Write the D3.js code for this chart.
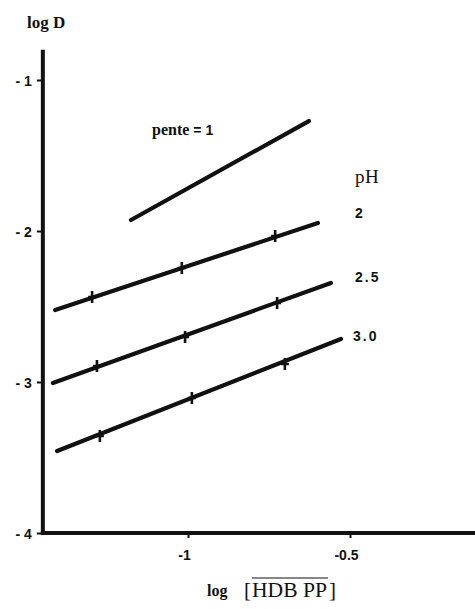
<!DOCTYPE html>
<html>
<head>
<meta charset="utf-8">
<script src="https://cdn.jsdelivr.net/npm/d3@7"></script>
<style>
  html, body { margin: 0; padding: 0; background: #fff; }
  svg { display: block; }
</style>
</head>
<body>
<svg id="chart" width="475" height="609"></svg>
<script>
// ---- data ----
const seriesNames = ["2", "2.5", "3.0"];
const pointsX_pH2  = [-1.296, -1.019, -0.731];
const pointsY_pH2  = [-2.437, -2.245, -2.033];
const pointsX_pH25 = [-1.281, -1.009, -0.725];
const pointsY_pH25 = [-2.894, -2.702, -2.477];
const pointsX_pH3  = [-1.272, -0.988, -0.701];
const pointsY_pH3  = [-3.358, -3.106, -2.881];
// fitted lines: [x0, x1], [y0, y1]
const lineX_pH2  = [-1.410, -0.599];
const lineY_pH2  = [-2.523, -1.947];
const lineX_pH25 = [-1.417, -0.559];
const lineY_pH25 = [-3.007, -2.344];
const lineX_pH3  = [-1.404, -0.528];
const lineY_pH3  = [-3.457, -2.715];
const lineX_pente = [-1.176, -0.627];
const lineY_pente = [-1.927, -1.272];
const xTicks = [-1, -0.5];
const xTickLabels = ["-1", "-0.5"];
const yTicks = [-1, -2, -3, -4];
const yTickLabels = ["- 1", "- 2", "- 3", "- 4"];

// ---- chart ----
const svg = d3.select("#chart");
const x = d3.scaleLinear().domain([-1, -0.5]).range([188, 350]);
const y = d3.scaleLinear().domain([-1, -4]).range([80, 533]);
const ink = "#111";
const sans = "'Liberation Sans', Arial, sans-serif";
const serif = "'Liberation Serif', 'Times New Roman', serif";

// axes
const yAxis = d3.axisLeft(y).tickValues(yTicks)
  .tickFormat((d, i) => yTickLabels[i]).tickSize(6).tickSizeOuter(0).tickPadding(5);
const gy = svg.append("g").attr("transform", `translate(${x(-1.448)},0)`).call(yAxis);
gy.select(".domain").remove();
gy.selectAll(".tick line").attr("stroke", ink).attr("stroke-width", 2);
gy.selectAll(".tick text").attr("font-family", sans).attr("font-weight", "bold")
  .attr("font-size", 14).attr("fill", ink).attr("dy", "0.36em").attr("xml:space", "preserve");

const xAxis = d3.axisBottom(x).tickValues(xTicks)
  .tickFormat((d, i) => xTickLabels[i]).tickSize(5).tickSizeOuter(0).tickPadding(12);
const gx = svg.append("g").attr("transform", `translate(0,${y(-4)})`).call(xAxis);
gx.select(".domain").remove();
gx.selectAll(".tick line").attr("stroke", ink).attr("stroke-width", 2);
gx.selectAll(".tick text").attr("font-family", sans).attr("font-weight", "bold")
  .attr("font-size", 14).attr("fill", ink).attr("dx", -4);

// axis lines
svg.append("line").attr("x1", x(-1.448)).attr("x2", x(-1.448))
  .attr("y1", y(-0.80)).attr("y2", y(-4) + 2)
  .attr("stroke", ink).attr("stroke-width", 4);
svg.append("line").attr("x1", x(-1.448) - 2).attr("x2", 475)
  .attr("y1", y(-4)).attr("y2", y(-4))
  .attr("stroke", ink).attr("stroke-width", 4);

// lines
const lines = [
  [lineX_pente, lineY_pente],
  [lineX_pH2, lineY_pH2],
  [lineX_pH25, lineY_pH25],
  [lineX_pH3, lineY_pH3]
];
lines.forEach(([lx, ly]) => {
  svg.append("line")
    .attr("x1", x(lx[0])).attr("y1", y(ly[0]))
    .attr("x2", x(lx[1])).attr("y2", y(ly[1]))
    .attr("stroke", ink).attr("stroke-width", 4.2).attr("stroke-linecap", "round");
});

// markers (+)
const pts = [
  [pointsX_pH2, pointsY_pH2],
  [pointsX_pH25, pointsY_pH25],
  [pointsX_pH3, pointsY_pH3]
];
pts.forEach(([px, py]) => {
  px.forEach((vx, i) => {
    const cx = x(vx), cy = y(py[i]);
    svg.append("path")
      .attr("d", `M${cx},${cy - 6}V${cy + 6}M${cx - 4},${cy}H${cx + 4}`)
      .attr("stroke", ink).attr("stroke-width", 2.6);
  });
});

// labels
svg.append("text").attr("x", 27).attr("y", 28)
  .attr("font-family", serif).attr("font-weight", "bold").attr("font-size", 17)
  .attr("fill", ink).text("log D");

const pente = svg.append("text").attr("x", 152).attr("y", 135)
  .attr("font-family", serif).attr("font-weight", "bold").attr("font-size", 16).attr("fill", ink);
pente.append("tspan").text("pente ");
pente.append("tspan").attr("font-family", sans).attr("font-size", 14).text("= 1");

svg.append("text").attr("x", 355).attr("y", 183)
  .attr("font-family", serif).attr("font-size", 19).attr("letter-spacing", "0.5px")
  .attr("fill", ink).text("pH");

const labelY = [218, 282, 341];
seriesNames.forEach((s, i) => {
  svg.append("text").attr("x", i === 2 ? 353 : 355).attr("y", labelY[i])
    .attr("font-family", sans).attr("font-weight", "bold").attr("font-size", 14)
    .attr("letter-spacing", s.length > 1 ? "2px" : "0px")
    .attr("fill", ink).text(s);
});

// x label
svg.append("text").attr("x", 207).attr("y", 596)
  .attr("font-family", serif).attr("font-weight", "bold").attr("font-size", 16)
  .attr("fill", ink).text("log");
svg.append("text").attr("x", 244).attr("y", 597)
  .attr("font-family", serif).attr("font-size", 21).attr("fill", ink).text("[");
svg.append("text").attr("x", 252).attr("y", 597)
  .attr("font-family", serif).attr("font-size", 20).attr("fill", ink)
  .attr("textLength", 75).attr("lengthAdjust", "spacingAndGlyphs").text("HDB PP");
svg.append("text").attr("x", 329).attr("y", 597)
  .attr("font-family", serif).attr("font-size", 21).attr("fill", ink).text("]");
svg.append("line").attr("x1", 252).attr("x2", 328).attr("y1", 578).attr("y2", 578)
  .attr("stroke", ink).attr("stroke-width", 1.2);
</script>
</body>
</html>
